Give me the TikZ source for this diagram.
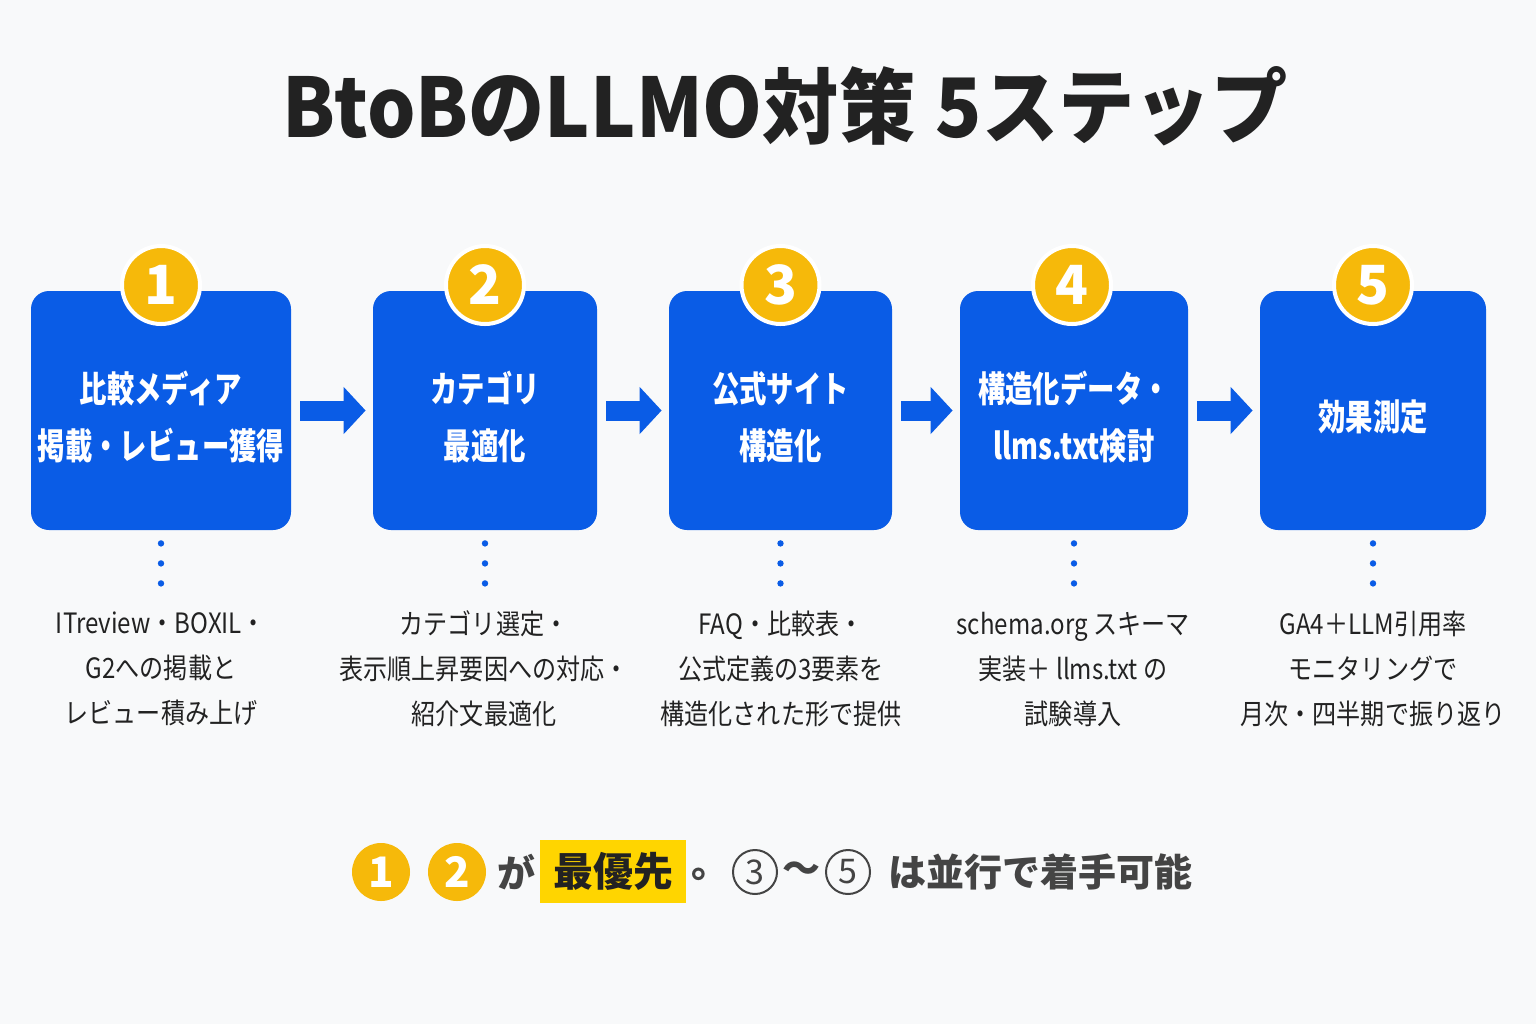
\documentclass[tikz,border=0pt]{standalone}
\usepackage{fontspec}
\setmainfont{Noto Sans CJK JP}
\newfontfamily\jpc[FakeStretch=0.76]{Noto Sans CJK JP}
\newfontfamily\jpd[FakeStretch=0.86]{Noto Sans CJK JP}
\newfontfamily\jpt[FakeStretch=0.93]{Noto Sans CJK JP}
\usetikzlibrary{arrows.meta}
\definecolor{bg}{HTML}{F8F9FA}
\definecolor{mblue}{HTML}{0A5CE6}
\definecolor{myel}{HTML}{F6B90A}
\definecolor{hl}{HTML}{FFD500}
\definecolor{txt}{HTML}{222222}
\definecolor{gtxt}{HTML}{444444}
\tikzset{
  stepbox/.style={fill=mblue, rounded corners=9pt, minimum height=119.5pt, inner sep=0pt},
  boxlabel/.style={text=white, align=center, inner sep=0pt, font=\jpc\bfseries\fontsize{18}{28.5}\selectfont},
  badge/.style={circle, fill=myel, draw=white, line width=2pt, minimum size=39pt, inner sep=0pt,
    text=white, font=\bfseries\fontsize{27}{27}\selectfont},
  flow/.style={draw=mblue, line width=10pt, -{Triangle[length=11pt,width=23pt]},
    shorten <=4.5pt, shorten >=3.5pt},
  dots/.style={draw=mblue, line width=3.2pt, line cap=round, dash pattern=on 0pt off 10pt},
  desc/.style={text=txt, align=center, font=\jpd\fontsize{14}{22.5}\selectfont},
  smallbadge/.style={circle, fill=myel, minimum size=29pt, inner sep=0pt, text=white,
    font=\bfseries\fontsize{21}{21}\selectfont},
  ring/.style={circle, draw=gtxt, line width=1pt, minimum size=22pt, inner sep=0pt, text=gtxt,
    font=\fontsize{17}{17}\selectfont},
  btxt/.style={text=gtxt, font=\bfseries\fontsize{19}{19}\selectfont, inner sep=0pt}
}
\begin{document}
\begin{tikzpicture}[x=0.5pt,y=-0.5pt]
\fill[bg] (0,0) rectangle (1536,1024);
\useasboundingbox (0,0) rectangle (1536,1024);

% title
\node[anchor=base, text=txt, font=\jpt\bfseries\fontsize{41}{41}\selectfont, inner sep=0pt] (title) at (785,137) {BtoBのLLMO対策\hspace{0.25em}5ステップ};

% boxes
\node[stepbox, minimum width=130pt] (b1) at (161,410.5) {};
\node[stepbox, minimum width=112pt] (b2) at (485,410.5) {};
\node[stepbox, minimum width=111.5pt] (b3) at (780.5,410.5) {};
\node[stepbox, minimum width=114pt] (b4) at (1074,410.5) {};
\node[stepbox, minimum width=113pt] (b5) at (1373,410.5) {};

\node[boxlabel] (l1) at ([yshift=-3.2pt]b1.center) {比較メディア\\掲載・レビュー獲得};
\node[boxlabel] (l2) at ([yshift=-3.2pt]b2.center) {カテゴリ\\最適化};
\node[boxlabel] (l3) at ([yshift=-3.2pt]b3.center) {公式サイト\\構造化};
\node[boxlabel] (l4) at ([yshift=-3.2pt]b4.center) {構造化データ・\\llms.txt検討};
\node[boxlabel] (l5) at ([yshift=-3.2pt]b5.center) {効果測定};

% badges
\node[badge] (n1) at (161,285) {1};
\node[badge] (n2) at (485,285) {2};
\node[badge] (n3) at (780.5,285) {3};
\node[badge] (n4) at (1072,285) {4};
\node[badge] (n5) at (1373,285) {5};

% arrows
\draw[flow] (b1.east) -- (b2.west);
\draw[flow] (b2.east) -- (b3.west);
\draw[flow] (b3.east) -- (b4.west);
\draw[flow] (b4.east) -- (b5.west);

% dotted leaders
\foreach \b in {b1,b2,b3,b4,b5}{
  \draw[dots] ([yshift=-6.5pt]\b.south) -- ++(0,41);
}

% descriptions
\node[desc] (t1) at (161,669) {ITreview・BOXIL・\\G2への掲載と\\レビュー積み上げ};
\node[desc] (t2) at (484,669) {カテゴリ選定・\\表示順上昇要因への対応・\\紹介文最適化};
\node[desc] (t3) at (781,669) {FAQ・比較表・\\公式定義の3要素を\\構造化された形で提供};
\node[desc] (t4) at (1073,669) {schema.org スキーマ\\実装＋ llms.txt の\\試験導入};
\node[desc] (t5) at (1373,669) {GA4＋LLM引用率\\モニタリングで\\月次・四半期で振り返り};

% bottom line
\node[smallbadge] (s1) at (381,872) {1};
\node[smallbadge] (s2) at (457,872) {2};
\node[btxt, anchor=west] (ga) at (497,872) {が};
\node[fill=hl, minimum width=73pt, minimum height=31.5pt, inner sep=0pt, text=txt,
  font=\bfseries\fontsize{20}{20}\selectfont] (hi) at (613,871.5) {最優先};
\node[btxt] (maru) at (710,874) {。};
\node[ring] (r3) at (755,872) {3};
\node[btxt] (tilde) at (801,872) {～};
\node[ring] (r5) at (848,872) {5};
\node[btxt, anchor=west] (rest) at (888,872) {は並行で着手可能};
\end{tikzpicture}
\end{document}
